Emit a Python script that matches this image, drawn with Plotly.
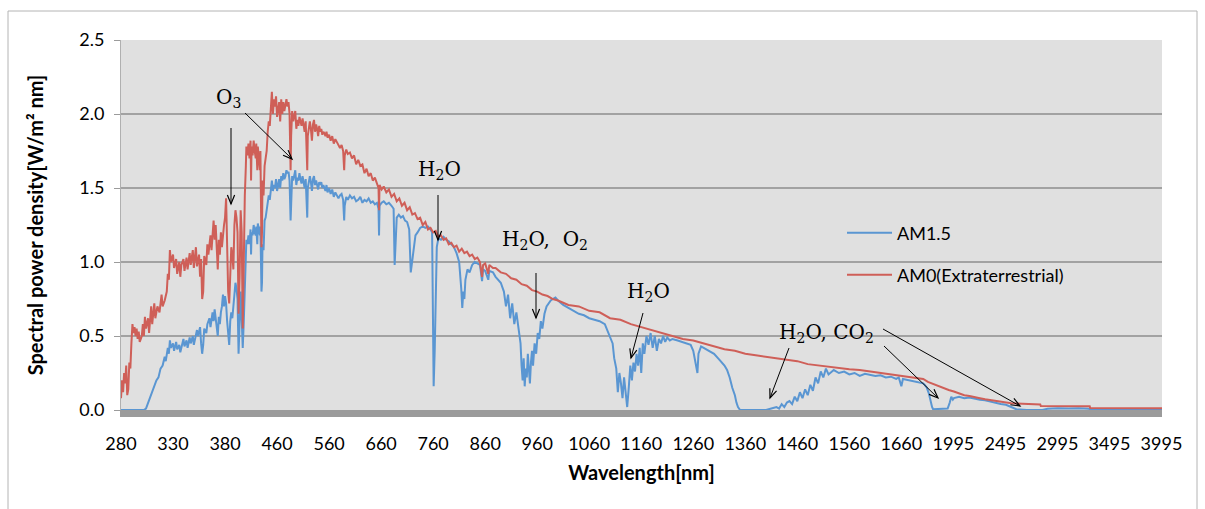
import math
import plotly.graph_objects as go

# ---------------- data ----------------
am0_wl = [280, 281, 282, 283, 284, 285, 286, 287, 288, 289, 290, 291, 292, 293, 294, 295, 296, 297, 298, 300,
          301, 302, 303, 304, 306, 307, 309, 310, 312, 313, 315, 317, 319, 320, 322, 324, 325, 326, 327, 328,
          330, 331, 333, 334, 336, 337, 338, 340, 341, 343, 344, 346, 347, 349, 350, 352, 353, 355, 356, 357,
          358, 359, 360, 362, 363, 364, 366, 367, 369, 370, 371, 372, 373, 374, 375, 376, 377, 379, 380, 381,
          382, 383, 384, 385, 386, 387, 388, 389, 390, 391, 392, 393, 394, 395, 396, 397, 398, 399, 400, 401,
          403, 405, 407, 409, 410, 411, 413, 415, 417, 419, 420, 422, 423, 425, 427, 428, 429, 430, 431, 432,
          434, 436, 438, 440, 442, 444, 446, 448, 450, 452, 454, 456, 458, 460, 462, 464, 466, 468, 470, 472,
          474, 476, 478, 480, 482, 484, 486, 487, 489, 491, 493, 495, 497, 499, 501, 503, 505, 507, 509, 511,
          513, 515, 517, 518, 519, 521, 523, 525, 527, 529, 531, 533, 535, 537, 539, 541, 543, 545, 547, 549,
          551, 553, 555, 557, 560, 563, 566, 569, 572, 575, 578, 581, 584, 587, 589, 590, 593, 596, 600, 604,
          608, 612, 616, 620, 624, 628, 632, 636, 640, 644, 648, 652, 655, 656, 657, 661, 665, 670, 675, 680,
          685, 690, 695, 700, 705, 710, 715, 720, 725, 730, 735, 740, 745, 750, 755, 760, 765, 770, 775, 780,
          785, 790, 795, 800, 805, 810, 815, 820, 825, 830, 835, 840, 845, 850, 854, 856, 860, 866, 868, 875,
          880, 890, 900, 910, 920, 930, 940, 950, 960, 970, 980, 990, 1000, 1020, 1040, 1060, 1080, 1100, 1120, 1140,
          1160, 1180, 1200, 1220, 1240, 1260, 1280, 1300, 1320, 1340, 1360, 1380, 1400, 1420, 1440, 1460, 1480, 1500, 1520, 1540,
          1560, 1580, 1600, 1620, 1640, 1660, 1680, 1700, 1705, 1750, 1800, 1850, 1900, 1950, 2000, 2050, 2100, 2150,
          2200, 2250, 2300, 2350, 2400, 2450, 2500, 2550, 2600, 2650, 2700, 2750, 2800, 2830, 2835, 3000, 3305, 3310,
          3600, 4000]
am0_val = [0.08, 0.20, 0.12, 0.25, 0.18, 0.30, 0.10, 0.14, 0.32, 0.28, 0.45, 0.58, 0.52, 0.56, 0.50, 0.55, 0.48, 0.53, 0.46, 0.50,
           0.58, 0.50, 0.63, 0.55, 0.62, 0.52, 0.70, 0.58, 0.72, 0.62, 0.70, 0.66, 0.78, 0.70, 0.74, 0.80, 0.92, 0.88, 1.08, 1.00,
           1.05, 0.96, 1.02, 0.92, 1.00, 0.90, 0.98, 1.02, 0.94, 1.03, 0.95, 1.06, 0.98, 1.08, 0.96, 1.10, 0.97, 1.05, 0.90, 1.02,
           0.75, 0.80, 1.04, 0.98, 1.12, 1.05, 1.18, 1.08, 1.28, 1.15, 1.25, 1.10, 0.95, 1.15, 1.05, 1.20, 1.10, 1.25, 1.30, 1.43,
           1.10, 0.80, 0.72, 1.00, 1.10, 1.05, 0.95, 1.25, 1.35, 1.30, 1.20, 0.65, 0.90, 1.35, 1.20, 0.55, 1.10, 1.45, 1.65, 1.78,
           1.72, 1.80, 1.70, 1.82, 1.55, 1.78, 1.72, 1.82, 1.75, 1.70, 1.80, 1.62, 1.78, 1.70, 1.62, 1.75, 1.55, 1.10, 1.20, 1.55,
           1.45, 1.65, 1.70, 1.75, 1.88, 1.95, 1.92, 2.05, 2.15, 2.00, 2.10, 2.05, 2.12, 1.98, 2.05, 2.08, 1.95, 2.10, 2.00, 2.08,
           2.02, 2.07, 2.10, 2.05, 2.08, 2.00, 1.62, 1.85, 2.02, 1.95, 1.98, 2.02, 1.90, 1.96, 1.92, 1.98, 1.95, 1.92, 1.97, 1.93,
           1.88, 1.95, 1.65, 1.62, 1.85, 1.92, 1.95, 1.90, 1.82, 1.93, 1.96, 1.88, 1.93, 1.90, 1.85, 1.92, 1.88, 1.90, 1.86, 1.88,
           1.87, 1.85, 1.88, 1.84, 1.86, 1.82, 1.85, 1.80, 1.83, 1.81, 1.79, 1.77, 1.79, 1.75, 1.62, 1.72, 1.76, 1.73, 1.74, 1.70,
           1.72, 1.66, 1.69, 1.65, 1.66, 1.60, 1.63, 1.58, 1.60, 1.55, 1.57, 1.52, 1.50, 1.35, 1.52, 1.49, 1.51, 1.47, 1.49, 1.44,
           1.46, 1.41, 1.43, 1.38, 1.40, 1.35, 1.37, 1.32, 1.33, 1.29, 1.30, 1.25, 1.27, 1.22, 1.23, 1.20, 1.21, 1.17, 1.18, 1.15,
           1.16, 1.12, 1.13, 1.10, 1.11, 1.07, 1.09, 1.06, 1.07, 1.04, 1.05, 1.02, 1.03, 1.00, 0.90, 0.98, 0.99, 0.92, 0.98, 0.96,
           0.96, 0.93, 0.92, 0.89, 0.88, 0.85, 0.84, 0.81, 0.80, 0.78, 0.77, 0.75, 0.74, 0.71, 0.70, 0.67, 0.66, 0.62, 0.61, 0.58,
           0.56, 0.54, 0.52, 0.50, 0.48, 0.47, 0.45, 0.43, 0.41, 0.40, 0.38, 0.37, 0.36, 0.35, 0.34, 0.33, 0.31, 0.30, 0.29, 0.28,
           0.275, 0.27, 0.26, 0.25, 0.24, 0.23, 0.22, 0.21, 0.21, 0.19, 0.175, 0.16, 0.15, 0.135, 0.125, 0.11, 0.10, 0.095,
           0.085, 0.08, 0.072, 0.066, 0.06, 0.055, 0.05, 0.046, 0.044, 0.042, 0.04, 0.039, 0.038, 0.038, 0.027, 0.027, 0.026, 0.013,
           0.012, 0.012]

am15_wl = [280, 302, 304, 306, 308, 310, 312, 314, 316, 318, 320, 322, 323, 325, 326, 327, 328, 330, 331, 333,
           334, 336, 337, 339, 340, 341, 343, 344, 346, 347, 349, 350, 351, 353, 354, 356, 357, 358, 359, 360,
           362, 363, 365, 366, 368, 369, 370, 371, 372, 373, 374, 375, 376, 377, 378, 379, 380, 381, 382, 383,
           384, 385, 386, 387, 388, 389, 390, 391, 392, 393, 394, 395, 396, 397, 398, 399, 400, 401, 403, 405,
           407, 409, 410, 411, 413, 415, 417, 419, 420, 422, 423, 425, 427, 428, 429, 430, 431, 432, 434, 436,
           438, 440, 442, 444, 446, 448, 450, 452, 454, 456, 458, 460, 462, 464, 466, 468, 470, 472, 474, 476,
           478, 480, 482, 484, 486, 487, 489, 491, 493, 495, 497, 499, 501, 503, 505, 507, 509, 511, 513, 515,
           517, 518, 519, 521, 523, 525, 527, 529, 531, 533, 535, 537, 539, 541, 543, 545, 547, 549, 551, 553,
           555, 557, 560, 563, 566, 569, 572, 575, 578, 581, 584, 587, 589, 590, 593, 596, 600, 604, 608, 612,
           616, 620, 624, 628, 632, 636, 640, 644, 648, 652, 655, 656, 657, 661, 665, 670, 675, 680, 684, 686,
           688, 690, 694, 698, 702, 706, 710, 714, 717, 720, 723, 726, 730, 735, 740, 745, 750, 755, 758, 760,
           761, 763, 765, 767, 770, 775, 780, 785, 790, 795, 800, 805, 810, 814, 816, 818, 820, 822, 826, 830,
           835, 840, 845, 850, 854, 856, 860, 866, 868, 875, 880, 890, 896, 900, 904, 908, 912, 916, 920, 924,
           928, 930, 932, 934, 936, 938, 940, 942, 944, 946, 948, 950, 952, 955, 958, 961, 964, 967, 970, 974,
           978, 982, 986, 990, 995, 1000, 1010, 1020, 1030, 1040, 1050, 1060, 1070, 1080, 1090, 1095, 1100, 1105, 1108, 1112,
           1115, 1118, 1121, 1124, 1127, 1130, 1133, 1136, 1139, 1142, 1145, 1148, 1151, 1154, 1157, 1160, 1163, 1166, 1170, 1174,
           1178, 1182, 1186, 1190, 1194, 1198, 1202, 1206, 1210, 1215, 1220, 1230, 1240, 1250, 1255, 1260, 1265, 1268, 1270, 1275,
           1280, 1290, 1300, 1310, 1320, 1325, 1330, 1335, 1340, 1343, 1346, 1350, 1400, 1410, 1420, 1425, 1430, 1435, 1440, 1445,
           1450, 1455, 1460, 1465, 1470, 1475, 1480, 1485, 1490, 1495, 1500, 1505, 1510, 1515, 1520, 1530, 1540, 1550, 1560, 1570,
           1580, 1590, 1600, 1610, 1620, 1630, 1640, 1650, 1655, 1660, 1663, 1670, 1680, 1690, 1700, 1705, 1720, 1740, 1760, 1775,
           1790, 1800, 1850, 1900, 1940, 1960, 1975, 1990, 2000, 2050, 2100, 2150, 2200, 2250, 2300, 2350, 2400, 2450, 2500, 2550,
           2600, 2700, 2850, 2900, 3000, 3100, 3200, 3300, 3310, 4000]
am15_val = [0.0, 0.0, 0.01, 0.05, 0.08, 0.12, 0.16, 0.20, 0.22, 0.28, 0.30, 0.36, 0.33, 0.42, 0.38, 0.47, 0.42, 0.45, 0.40, 0.46,
            0.41, 0.44, 0.39, 0.46, 0.48, 0.43, 0.47, 0.42, 0.49, 0.45, 0.50, 0.44, 0.48, 0.54, 0.50, 0.56, 0.45, 0.38, 0.44, 0.55,
            0.52, 0.58, 0.62, 0.56, 0.66, 0.60, 0.68, 0.62, 0.58, 0.50, 0.63, 0.58, 0.66, 0.70, 0.78, 0.70, 0.77, 0.72, 0.60, 0.48,
            0.44, 0.60, 0.66, 0.62, 0.70, 0.80, 0.86, 0.82, 0.75, 0.38, 0.55, 0.80, 0.62, 0.42, 0.60, 0.90, 1.05, 1.15, 1.12, 1.18,
            1.12, 1.22, 1.05, 1.20, 1.18, 1.25, 1.20, 1.18, 1.24, 1.12, 1.26, 1.22, 1.18, 1.24, 1.10, 0.80, 0.86, 1.12, 1.08, 1.28,
            1.30, 1.35, 1.42, 1.45, 1.42, 1.50, 1.55, 1.48, 1.52, 1.50, 1.56, 1.48, 1.53, 1.56, 1.50, 1.58, 1.55, 1.60, 1.56, 1.58,
            1.62, 1.60, 1.61, 1.55, 1.28, 1.45, 1.58, 1.55, 1.58, 1.62, 1.52, 1.57, 1.55, 1.60, 1.56, 1.53, 1.58, 1.55, 1.50, 1.56,
            1.32, 1.30, 1.50, 1.55, 1.58, 1.54, 1.48, 1.56, 1.58, 1.52, 1.55, 1.52, 1.49, 1.54, 1.52, 1.54, 1.50, 1.52, 1.50, 1.48,
            1.52, 1.47, 1.50, 1.46, 1.49, 1.44, 1.47, 1.45, 1.43, 1.45, 1.46, 1.42, 1.28, 1.38, 1.44, 1.42, 1.45, 1.43, 1.44, 1.41,
            1.42, 1.44, 1.40, 1.42, 1.41, 1.43, 1.40, 1.41, 1.39, 1.40, 1.36, 1.18, 1.38, 1.40, 1.41, 1.39, 1.40, 1.38, 1.36, 0.98,
            1.15, 1.30, 1.32, 1.30, 1.31, 1.28, 1.27, 1.22, 0.93, 1.02, 1.10, 1.18, 1.20, 1.23, 1.24, 1.23, 1.24, 1.22, 1.20, 0.20,
            0.16, 0.40, 0.90, 1.10, 1.16, 1.15, 1.17, 1.15, 1.14, 1.12, 1.10, 1.06, 1.00, 0.82, 0.69, 0.80, 0.75, 0.88, 0.95, 0.93,
            0.98, 1.00, 0.99, 0.98, 0.87, 0.95, 0.94, 0.88, 0.94, 0.93, 0.90, 0.86, 0.80, 0.70, 0.78, 0.62, 0.72, 0.58, 0.66, 0.55,
            0.45, 0.30, 0.20, 0.35, 0.16, 0.28, 0.22, 0.38, 0.25, 0.18, 0.32, 0.40, 0.30, 0.45, 0.38, 0.52, 0.48, 0.60, 0.55, 0.65,
            0.70, 0.72, 0.74, 0.75, 0.76, 0.74, 0.71, 0.69, 0.67, 0.65, 0.64, 0.62, 0.61, 0.60, 0.58, 0.54, 0.50, 0.45, 0.35, 0.28,
            0.12, 0.25, 0.18, 0.08, 0.22, 0.12, 0.02, 0.15, 0.30, 0.20, 0.32, 0.26, 0.38, 0.30, 0.42, 0.25, 0.45, 0.38, 0.50, 0.44,
            0.52, 0.42, 0.50, 0.40, 0.48, 0.45, 0.50, 0.46, 0.49, 0.47, 0.48, 0.47, 0.46, 0.45, 0.44, 0.40, 0.30, 0.25, 0.38, 0.43,
            0.42, 0.40, 0.38, 0.34, 0.30, 0.27, 0.22, 0.15, 0.10, 0.05, 0.02, 0.0, 0.0, 0.01, 0.02, 0.01, 0.04, 0.02, 0.05, 0.06,
            0.04, 0.09, 0.06, 0.12, 0.08, 0.14, 0.10, 0.17, 0.13, 0.22, 0.18, 0.26, 0.22, 0.28, 0.24, 0.27, 0.25, 0.26, 0.24, 0.25,
            0.23, 0.245, 0.24, 0.23, 0.235, 0.22, 0.225, 0.21, 0.22, 0.16, 0.21, 0.205, 0.20, 0.19, 0.185, 0.18, 0.17, 0.15, 0.11, 0.06,
            0.02, 0.005, 0.005, 0.005, 0.01, 0.05, 0.09, 0.07, 0.08, 0.09, 0.08, 0.085, 0.075, 0.07, 0.065, 0.055, 0.045, 0.04, 0.035, 0.02,
            0.005, 0.0, 0.0, 0.008, 0.012, 0.01, 0.012, 0.008, 0.0, 0.0]

tick_wavelengths = [280, 330, 380, 460, 560, 660, 760, 860, 960, 1060, 1160, 1260, 1360, 1460, 1560, 1660,
                    1995, 2495, 2995, 3495, 3995]

series_names = ["AM1.5", "AM0(Extraterrestrial)"]
series_colors = ["#5a96d2", "#cf5f58"]


# Excel category axis: one category per data row of the source table
# (0.5 nm steps to 400 nm, 1 nm steps to 1700 nm, then 1702 and 5 nm steps)
def category_index(w):
    if w <= 400:
        return (w - 280) * 2.0
    if w <= 1700:
        return 240 + (w - 400)
    if w <= 1705:
        return 1540 + (w - 1700) * 2.0 / 5.0
    return 1542 + (w - 1705) / 5.0


N_CATEGORIES = category_index(4000)

# plot-area geometry in pixels (for layout items)
PL, PR, PT, PB = 121, 1162, 40, 410
W, H = 1205, 509


def px_x(px):
    return (px - PL) / (PR - PL)


def px_y(py):
    return (PB - py) / (PB - PT)


fig = go.Figure()
fig.add_trace(go.Scatter(
    x=[category_index(w) for w in am15_wl], y=am15_val, mode="lines", name=series_names[0],
    line=dict(color=series_colors[0], width=2), legend="legend"))
fig.add_trace(go.Scatter(
    x=[category_index(w) for w in am0_wl], y=am0_val, mode="lines", name=series_names[1],
    line=dict(color=series_colors[1], width=2), legend="legend2"))

tick_font = dict(family="Lato, Carlito, Calibri, sans-serif", size=18, color="#000000")
legend_font = dict(family="Lato, Carlito, Calibri, sans-serif", size=18, color="#000000")
title_font = dict(family="Lato, Carlito, Calibri, sans-serif", size=20, color="#000000")

fig.update_layout(
    width=W, height=H,
    margin=dict(l=PL, r=W - PR, t=PT, b=H - PB, pad=0),
    paper_bgcolor="#ffffff",
    plot_bgcolor="#e0e0e0",
    showlegend=True,
    legend=dict(x=px_x(842), y=px_y(233), xanchor="left", yanchor="middle",
                bgcolor="rgba(0,0,0,0)", font=legend_font, itemwidth=45),
    legend2=dict(x=px_x(842), y=px_y(275), xanchor="left", yanchor="middle",
                 bgcolor="rgba(0,0,0,0)", font=legend_font, itemwidth=45),
    xaxis=dict(
        range=[0, N_CATEGORIES], showgrid=False, zeroline=False,
        tickmode="array", tickvals=[category_index(w) for w in tick_wavelengths],
        ticktext=[str(w) for w in tick_wavelengths],
        ticks="", tickfont=tick_font, ticklabelstandoff=11,
        showline=True, linecolor="#9b9b9b", linewidth=7, layer="below traces",
        title=dict(text="<b>Wavelength[nm]</b>", font=title_font, standoff=16),
    ),
    yaxis=dict(
        range=[0, 2.5], dtick=0.5, tick0=0, tickformat=".1f",
        showgrid=True, gridcolor="#a2a2a2", gridwidth=2, zeroline=False,
        ticks="outside", ticklen=6, tickcolor="#9b9b9b", tickwidth=1,
        showline=True, linecolor="#b0b0b0", linewidth=1,
        tickfont=tick_font, ticklabelstandoff=6,
        title=dict(text="<b>Spectral power density[W/m² nm]</b>", font=title_font, standoff=30),
    ),
)

# outer chart border
fig.add_shape(type="rect", xref="paper", yref="paper",
              x0=px_x(8), x1=px_x(1197), y0=px_y(530), y1=px_y(11),
              line=dict(color="#b4b4b4", width=1), fillcolor="rgba(0,0,0,0)", layer="below")

chem_font = dict(family="DejaVu Serif, serif", size=20, color="#000000")
labels = [
    ("O<sub>3</sub>", 228, 98),
    ("H<sub>2</sub>O", 440, 170),
    ("H<sub>2</sub>O,  O<sub>2</sub>", 545, 240),
    ("H<sub>2</sub>O", 648, 292),
    ("H<sub>2</sub>O, CO<sub>2</sub>", 826, 333),
]
for text, cx, cy in labels:
    fig.add_annotation(text=text, xref="paper", yref="paper", x=px_x(cx), y=px_y(cy),
                       xanchor="center", yanchor="middle", showarrow=False, font=chem_font)

# arrows: (tail x, tail y, head x, head y) in pixels; shaft + open "V" head as shapes
arrows = [
    (231, 128, 231, 204),
    (245, 113, 292, 159),
    (438, 195, 438, 240),
    (536, 273, 536, 318),
    (643, 313, 631, 358),
    (789, 348, 770, 398),
    (884, 346, 938, 398),
    (883, 329, 1020, 406),
]
HEAD_LEN, HEAD_HALF = 9.0, 3.6
for tx, ty, hx, hy in arrows:
    fig.add_shape(type="line", xref="paper", yref="paper",
                  x0=px_x(tx), y0=px_y(ty), x1=px_x(hx), y1=px_y(hy),
                  line=dict(color="#000000", width=1))
    dx, dy = hx - tx, hy - ty
    ln = math.hypot(dx, dy)
    ux, uy = dx / ln, dy / ln
    nx, ny = -uy, ux
    bx, by = hx - HEAD_LEN * ux, hy - HEAD_LEN * uy
    p1 = (bx + HEAD_HALF * nx, by + HEAD_HALF * ny)
    p2 = (bx - HEAD_HALF * nx, by - HEAD_HALF * ny)
    path = "M {:.5f},{:.5f} L {:.5f},{:.5f} L {:.5f},{:.5f}".format(
        px_x(p1[0]), px_y(p1[1]), px_x(hx), px_y(hy), px_x(p2[0]), px_y(p2[1]))
    fig.add_shape(type="path", xref="paper", yref="paper", path=path,
                  line=dict(color="#000000", width=1.2), fillcolor="rgba(0,0,0,0)")

fig.write_html("out.html")
